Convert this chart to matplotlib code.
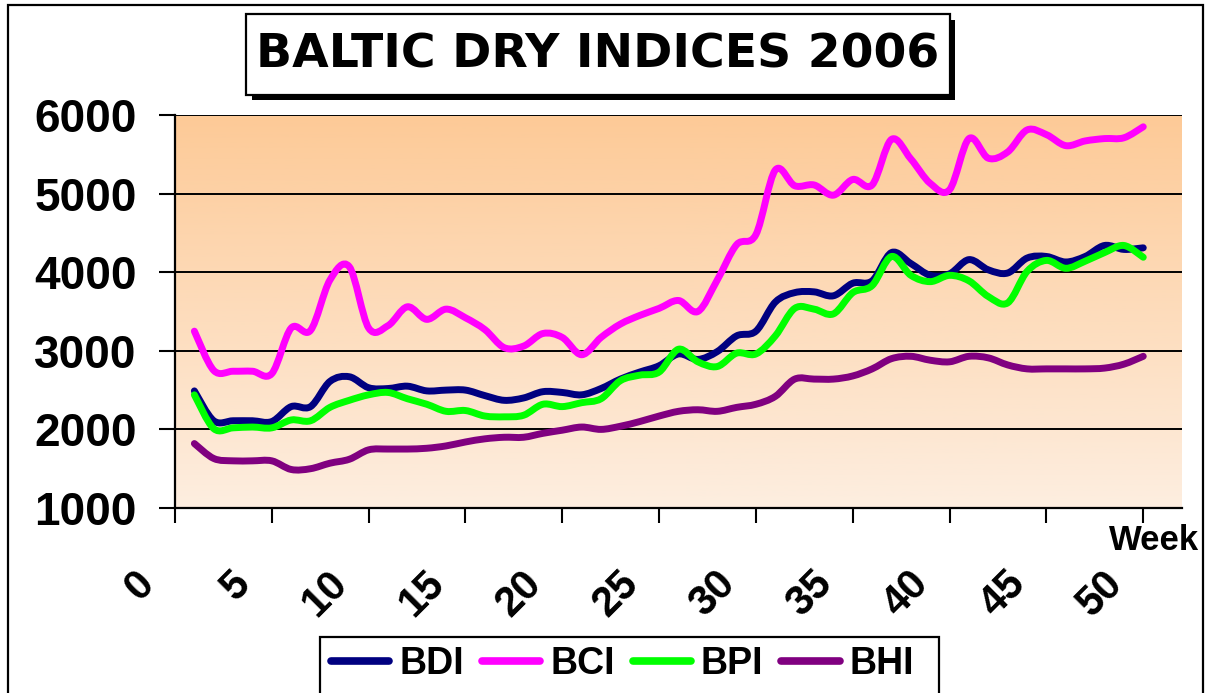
import numpy as np
import matplotlib
matplotlib.use("Agg")
import matplotlib.pyplot as plt
from matplotlib.path import Path
from matplotlib.patches import PathPatch, Rectangle
from matplotlib.lines import Line2D
import matplotlib.transforms as mtransforms

weeks = list(range(1, 51))
BDI = [2490, 2110, 2110, 2110, 2100, 2290, 2290, 2610, 2670, 2530,
       2520, 2550, 2490, 2500, 2500, 2430, 2370, 2400, 2480, 2470,
       2440, 2520, 2640, 2730, 2810, 2960, 2890, 2990, 3190, 3250,
       3620, 3740, 3750, 3700, 3860, 3890, 4250, 4110, 3960, 3980,
       4160, 4030, 3990, 4180, 4200, 4130, 4200, 4340, 4290, 4310]
BCI = [3250, 2750, 2740, 2740, 2710, 3290, 3260, 3900, 4070, 3290,
       3320, 3560, 3400, 3530, 3420, 3270, 3040, 3060, 3220, 3170,
       2950, 3170, 3340, 3450, 3540, 3640, 3500, 3900, 4350, 4480,
       5300, 5100, 5110, 4980, 5180, 5110, 5690, 5440, 5130, 5050,
       5700, 5450, 5530, 5810, 5750, 5610, 5670, 5700, 5710, 5850]
BPI = [2440, 2010, 2020, 2030, 2020, 2120, 2110, 2280, 2370, 2440,
       2470, 2390, 2320, 2230, 2240, 2170, 2160, 2180, 2320, 2290,
       2340, 2390, 2620, 2690, 2730, 3020, 2860, 2800, 2970, 2960,
       3190, 3540, 3530, 3470, 3740, 3830, 4200, 3960, 3880, 3960,
       3890, 3690, 3610, 4010, 4150, 4050, 4140, 4250, 4340, 4190]
BHI = [1820, 1630, 1600, 1600, 1600, 1490, 1500, 1570, 1620, 1740,
       1750, 1750, 1760, 1790, 1840, 1880, 1900, 1900, 1950, 1990,
       2030, 2000, 2040, 2100, 2170, 2230, 2250, 2230, 2280, 2320,
       2420, 2640, 2640, 2640, 2680, 2770, 2900, 2930, 2880, 2860,
       2930, 2910, 2820, 2770, 2770, 2770, 2770, 2780, 2830, 2930]
series_names = ["BDI", "BCI", "BPI", "BHI"]
series_values = [BDI, BCI, BPI, BHI]
series_colors = ["#000080", "#FF00FF", "#00FF00", "#800080"]
x_ticks = [0, 5, 10, 15, 20, 25, 30, 35, 40, 45, 50]
y_ticks = [1000, 2000, 3000, 4000, 5000, 6000]
title_text = "BALTIC DRY INDICES 2006"
x_label = "Week"

W, H = 1210, 693
fig = plt.figure(figsize=(W / 100, H / 100), dpi=100)
fig.patch.set_facecolor("white")

def fx(px):
    return px / W

def fy(py):
    return 1 - py / H

ax = fig.add_axes([fx(175), fy(508), fx(1182) - fx(175), fy(115) - fy(508)])
ax.set_xlim(0, 52)
ax.set_ylim(1000, 6000)

# gradient background
top = np.array([253, 202, 151]) / 255
bot = np.array([253, 238, 224]) / 255
t = np.linspace(0, 1, 256)[:, None]
grad = (top[None, :] * (1 - t) + bot[None, :] * t)[:, None, :]
ax.imshow(grad, extent=[0, 1, 0, 1], transform=ax.transAxes, aspect="auto",
          zorder=0, interpolation="bilinear")
ax.set_facecolor("none")

for yv in y_ticks:
    ax.axhline(yv, color="black", lw=1.4, zorder=1)

def smooth_path(xs, ys):
    xs = np.asarray(xs, float)
    ys = np.asarray(ys, float)
    pts = np.column_stack([xs, ys])
    n = len(pts)
    verts = [pts[0]]
    codes = [Path.MOVETO]
    for i in range(n - 1):
        p0 = pts[i - 1] if i > 0 else pts[i]
        p1 = pts[i]
        p2 = pts[i + 1]
        p3 = pts[i + 2] if i + 2 < n else pts[i + 1]
        c1 = p1 + (p2 - p0) / 6.0
        c2 = p2 - (p3 - p1) / 6.0
        verts += [c1, c2, p2]
        codes += [Path.CURVE4] * 3
    return Path(verts, codes)

handles = []
for name, vals, col in zip(series_names, series_values, series_colors):
    patch = PathPatch(smooth_path(weeks, vals), facecolor="none", edgecolor=col,
                      lw=5.0, capstyle="round", joinstyle="round", zorder=3)
    ax.add_patch(patch)
    handles.append(Line2D([], [], color=col, lw=5.5, solid_capstyle="round"))

for s in ["top", "right"]:
    ax.spines[s].set_visible(False)
for s in ["left", "bottom"]:
    ax.spines[s].set_linewidth(1.6)
    ax.spines[s].set_zorder(4)

ax.set_yticks(y_ticks)
ax.set_yticklabels([str(v) for v in y_ticks], fontsize=33, fontweight="bold",
                   family=["Liberation Sans", "DejaVu Sans"])
ax.tick_params(axis="y", direction="out", length=11.5, width=1.5, pad=16)

ax.set_xticks(x_ticks)
ax.set_xticklabels([str(v) for v in x_ticks], fontsize=30, fontweight="bold",
                   family=["Liberation Sans", "DejaVu Sans"], rotation=45,
                   ha="right", va="top")
ax.tick_params(axis="x", direction="out", length=10.8, width=1.5, pad=29)
offset = mtransforms.ScaledTranslation(-0.13, 0, fig.dpi_scale_trans)
for lab in ax.get_xticklabels():
    lab.set_transform(lab.get_transform() + offset)

fig.text(fx(1199), fy(540), x_label, ha="right", va="center", fontsize=25,
         fontweight="bold", family=["Liberation Sans", "DejaVu Sans"])

# outer chart border
fig.patches.append(Rectangle((fx(8), fy(720)), fx(1203) - fx(8), fy(5) - fy(720),
                             transform=fig.transFigure, fill=False,
                             edgecolor="black", lw=1.6, clip_on=False))

# title box with shadow
fig.patches.append(Rectangle((fx(252), fy(100)), fx(955) - fx(252), fy(20) - fy(100),
                             transform=fig.transFigure, facecolor="black",
                             edgecolor="black", lw=0))
fig.patches.append(Rectangle((fx(246), fy(95)), fx(950) - fx(246), fy(14) - fy(95),
                             transform=fig.transFigure, facecolor="white",
                             edgecolor="black", lw=1.6))
fig.text(fx(598), fy(55), title_text, ha="center", va="center", fontsize=34,
         fontweight="bold", family="DejaVu Sans")

# legend box
fig.patches.append(Rectangle((fx(320), fy(720)), fx(939) - fx(320), fy(637) - fy(720),
                             transform=fig.transFigure, facecolor="white",
                             edgecolor="black", lw=1.6, clip_on=False))
leg = fig.legend(handles, series_names, loc="center left",
                 bbox_to_anchor=(fx(331), fy(664)), ncol=4, frameon=False,
                 handlelength=1.55, handletextpad=0.27, columnspacing=0.48,
                 borderaxespad=0, borderpad=0,
                 prop={"family": ["Liberation Sans", "DejaVu Sans"],
                       "weight": "bold", "size": 27})

fig.savefig("out.png", dpi=100)
